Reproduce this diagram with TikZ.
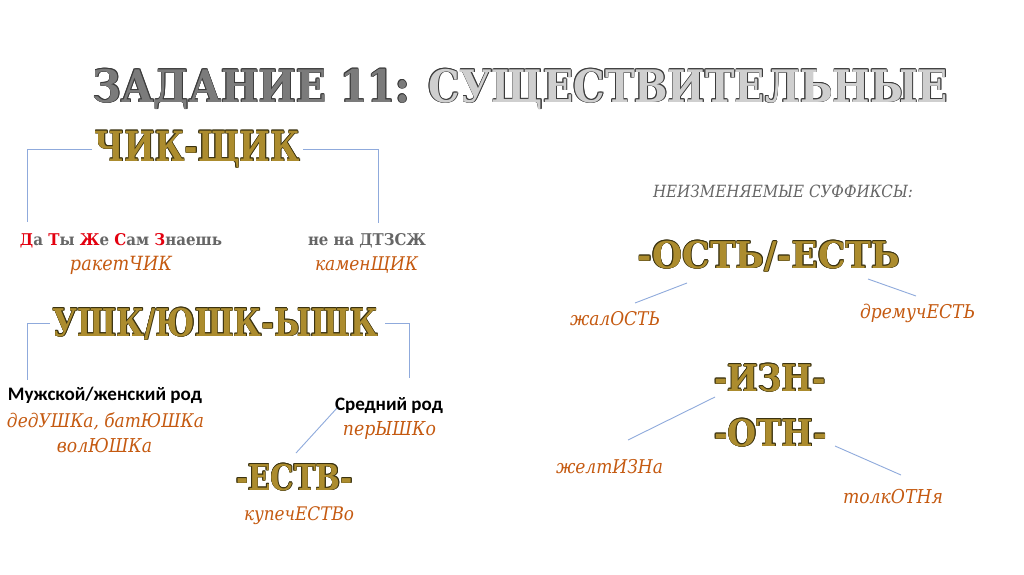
\documentclass[tikz,border=0pt]{standalone}
\usepackage{fontspec}
\usepackage{graphicx}
\setmainfont{DejaVu Serif Condensed}
\newfontfamily\hfont{DejaVu Serif Bold}
\newfontfamily\tfont{DejaVu Serif Condensed Bold}
\newfontfamily\sansb{Carlito}
\definecolor{gold}{HTML}{AC8C2E}
\definecolor{goldol}{HTML}{3A3210}
\definecolor{tdark}{HTML}{7B7B7B}
\definecolor{tlight}{HTML}{CFCFCF}
\definecolor{tol}{HTML}{3C3C3C}
\definecolor{orng}{HTML}{C55A11}
\definecolor{redl}{HTML}{E3000F}
\definecolor{grayt}{HTML}{666666}
\definecolor{ln}{HTML}{8FAADC}
\newlength\ow
\newcommand\olc[4]{\rlap{\color{#1}\kern#2\raisebox{#3}{#4}}}
% #1 outline colour, #2 plain text, #3 filled text
\newcommand\outl[3]{\setlength\ow{0.017em}%
  \olc{#1}{\ow}{0pt}{#2}\olc{#1}{-\ow}{0pt}{#2}%
  \olc{#1}{0pt}{\ow}{#2}\olc{#1}{0pt}{-\ow}{#2}%
  \olc{#1}{0.7\ow}{0.7\ow}{#2}\olc{#1}{-0.7\ow}{0.7\ow}{#2}%
  \olc{#1}{0.7\ow}{-0.7\ow}{#2}\olc{#1}{-0.7\ow}{-0.7\ow}{#2}%
  {#3}}
\newcommand\goldtxt[1]{{\hfont\outl{goldol}{#1}{\color{gold}#1}}}
\newcommand\orn[1]{{\itshape\color{orng}#1}}
\newcommand\rl[1]{\textcolor{redl}{#1}}
\begin{document}
\begin{tikzpicture}[x=1pt,y=-1pt,
  hd/.style={anchor=base,inner sep=0pt,outer sep=3pt},
  tx/.style={anchor=base,inner sep=0pt,outer sep=2pt},
  conn/.style={draw=ln,line width=0.9pt}]
\useasboundingbox (0,0) rectangle (1024,574);
\fill[white] (0,0) rectangle (1024,574);
% title
\node[hd] (title) at (520.5,102) {\resizebox{855pt}{34pt}{\tfont\outl{tol}{ЗАДАНИЕ 11: СУЩЕСТВИТЕЛЬНЫЕ}{\color{tdark}ЗАДАНИЕ 11: \color{tlight}СУЩЕСТВИТЕЛЬНЫЕ}}};
% left column
\node[hd] (chik) at (197.5,161) {\resizebox{205pt}{31pt}{\goldtxt{ЧИК-ЩИК}}};
\node[tx] (dat) at (121,245) {\resizebox{202pt}{12pt}{\bfseries\color{grayt}\rl{Д}а \rl{Т}ы \rl{Ж}е \rl{С}ам \rl{З}наешь}};
\node[tx] (raket) at (121,270) {\resizebox{102pt}{!}{\orn{ракетЧИК}}};
\node[tx] (nena) at (367,245) {\resizebox{118pt}{12pt}{\bfseries\color{grayt}не на ДТЗСЖ}};
\node[tx] (kamen) at (366.5,270) {\resizebox{103pt}{!}{\orn{каменЩИК}}};
\node[hd] (ushk) at (215.5,336) {\resizebox{325pt}{29pt}{\goldtxt{УШК/ЮШК-ЫШК}}};
\node[tx] (muzh) at (105,400) {\resizebox{194pt}{!}{\sansb\bfseries Мужской/женский род}};
\node[tx] (dedu) at (105.5,427) {\resizebox{197pt}{!}{\orn{дедУШКа, батЮШКа}}};
\node[tx] (volu) at (104.5,452) {\resizebox{95pt}{!}{\orn{волЮШКа}}};
\node[tx] (sred) at (389,410) {\resizebox{108pt}{!}{\sansb\bfseries Средний род}};
\node[tx] (peru) at (389.5,435) {\resizebox{93pt}{!}{\orn{перЫШКо}}};
\node[hd] (estv) at (294.5,490) {\resizebox{117pt}{27pt}{\goldtxt{-ЕСТВ-}}};
\node[tx] (kupech) at (299,520) {\resizebox{110pt}{!}{\orn{купечЕСТВо}}};
% right column
\node[tx] (neizm) at (783,197) {\resizebox{260pt}{!}{\itshape\color{grayt}НЕИЗМЕНЯЕМЫЕ СУФФИКСЫ:}};
\node[hd] (ost) at (769,268) {\resizebox{262pt}{28pt}{\goldtxt{-ОСТЬ/-ЕСТЬ}}};
\node[tx] (zhal) at (615,325) {\resizebox{90pt}{!}{\orn{жалОСТЬ}}};
\node[tx] (drem) at (917.5,318) {\resizebox{115pt}{!}{\orn{дремучЕСТЬ}}};
\node[hd] (izn) at (770,391) {\resizebox{112pt}{28pt}{\goldtxt{-ИЗН-}}};
\node[hd] (otn) at (770.5,446) {\resizebox{113pt}{28pt}{\goldtxt{-ОТН-}}};
\node[tx] (zhelt) at (609.5,473) {\resizebox{107pt}{!}{\orn{желтИЗНа}}};
\node[tx] (tolk) at (893,503) {\resizebox{100pt}{!}{\orn{толкОТНя}}};
% connector ends
\coordinate (c1) at (27,222);
\coordinate (c2) at (378,223);
\coordinate (c3) at (27,380);
\coordinate (c4) at (409,378);
\coordinate (d1) at (337,408);
\coordinate (d2) at (296,453);
\coordinate (e1) at (687,283);
\coordinate (e2) at (635,303);
\coordinate (f1) at (868,279);
\coordinate (f2) at (916,296);
\coordinate (g1) at (715,397);
\coordinate (g2) at (628,440);
\coordinate (h1) at (835,446);
\coordinate (h2) at (901,475);
\draw[conn] (chik.west) -| (c1);
\draw[conn] (chik.east) -| (c2);
\draw[conn] (ushk.west) -| (c3);
\draw[conn] ([xshift=4pt]ushk.east) -| (c4);
\draw[conn] (d1) -- (d2);
\draw[conn] (e1) -- (e2);
\draw[conn] (f1) -- (f2);
\draw[conn] (g1) -- (g2);
\draw[conn] (h1) -- (h2);
\end{tikzpicture}
\end{document}
